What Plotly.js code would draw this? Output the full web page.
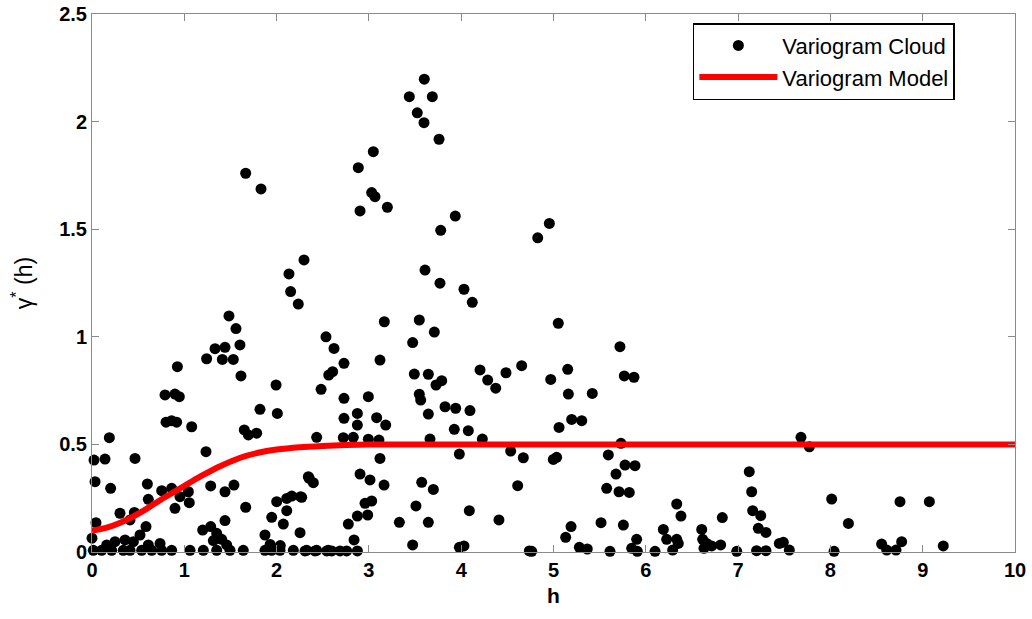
<!DOCTYPE html>
<html>
<head>
<meta charset="utf-8">
<script src="https://cdn.plot.ly/plotly-3.0.1.min.js"></script>
<style>
html,body{margin:0;padding:0;background:#fff;}
#chart{width:1032px;height:619px;}
</style>
</head>
<body>
<div id="chart"></div>
<script>
// Variogram cloud: lag distance h and semivariance gamma*(h)
const cloudH = [
  2.235,1.484,1.56,1.603,1.333,1.441,1.242,1.412,1.531,1.614,
  0.925,0.791,0.899,0.946,0.802,0.863,0.917,1.08,0.188,0.022,
  0.141,0.466,1.235,1.82,1.994,2.008,1.65,1.694,1.784,2.535,
  2.565,2.482,2.434,0.033,0.202,0.6,0.61,0.755,0.863,0.953,
  1.044,1.054,0.899,1.286,1.441,1.538,1.665,0.303,0.459,0.412,
  0.043,0.585,0.52,0.0,1.199,1.286,1.351,1.315,1.441,1.405,
  1.459,2.001,1.947,2.11,2.164,2.26,2.073,2.11,1.874,2.254,
  2.354,2.398,0.358,0.249,0.159,0.448,0.737,0.61,
  0.014,0.105,0.213,0.339,0.412,0.538,0.647,0.755,0.863,1.062,
  1.206,1.351,1.495,1.639,1.874,1.947,2.037,2.181,2.326,2.434,2.56,
  1.93,2.04,
  1.665,1.831,2.297,2.134,2.152,
  3.6,3.438,3.687,3.524,3.597,3.76,3.048,2.885,3.03,3.066,
  2.904,3.2,3.936,3.778,4.829,4.955,3.608,3.77,4.03,4.12,
  3.167,3.546,
  3.709,3.474,2.622,3.12,2.73,2.607,3.492,3.644,3.727,3.789,
  4.204,4.287,4.374,4.485,4.655,4.97,2.73,2.994,3.546,3.561,
  3.825,3.94,4.095,2.875,2.73,3.084,2.875,3.182,3.644,3.925,
  4.077,2.723,2.831,2.994,3.109,3.662,4.229,3.12,3.98,4.536,
  4.673,2.344,2.272,2.904,3.012,3.164,3.572,3.698,4.612,2.958,
  3.03,3.51,4.088,2.875,2.987,2.777,3.33,3.644,4.409,2.839,
  3.474,3.98,4.03,
  2.308,2.416,2.543,2.597,2.687,2.759,2.875,4.738,
  5.052,5.72,5.154,5.767,5.872,5.161,5.42,5.197,5.306,5.06,
  4.998,5.034,5.731,5.594,5.775,5.883,5.677,5.576,5.71,5.821,
  7.121,7.147,7.158,7.245,7.219,7.302,6.335,6.381,6.829,5.515,
  5.757,5.19,5.132,5.28,5.366,5.901,5.847,6.19,6.226,6.335,
  6.352,6.291,6.606,6.616,6.66,6.714,6.811,6.985,7.2,7.302,
  4.764,5.612,5.908,6.1,6.63,7.447,
  7.681,7.772,8.014,8.195,8.754,9.072,9.223,8.555,8.61,8.711,
  8.772,8.04,7.49,7.555
];
const cloudGamma = [
  1.152,1.097,1.038,0.962,0.945,0.951,0.898,0.895,0.895,0.818,
  0.861,0.73,0.734,0.722,0.603,0.61,0.603,0.582,0.531,0.427,
  0.432,0.435,0.466,0.663,0.776,0.644,0.567,0.544,0.552,1.0,
  0.822,0.756,0.533,0.327,0.296,0.316,0.245,0.285,0.296,0.257,
  0.28,0.229,0.203,0.307,0.28,0.311,0.208,0.18,0.184,0.149,
  0.136,0.118,0.079,0.064,0.102,0.118,0.087,0.053,0.146,0.059,
  0.033,0.234,0.161,0.249,0.26,0.257,0.13,0.192,0.079,0.09,
  0.342,0.322,0.056,0.048,0.033,0.048,0.04,0.033,
  0.008,0.008,0.008,0.008,0.008,0.008,0.008,0.008,0.008,0.008,
  0.008,0.008,0.008,0.008,0.008,0.008,0.008,0.008,0.008,0.008,0.008,
  0.035,0.03,
  1.76,1.687,1.357,1.292,1.21,
  2.197,2.116,2.116,2.041,1.995,1.918,1.86,1.786,1.67,1.651,
  1.585,1.602,1.561,1.495,1.46,1.527,1.31,1.249,1.221,1.16,
  1.07,1.078,
  1.022,0.973,0.946,0.892,0.877,0.838,0.827,0.826,0.776,0.796,
  0.846,0.799,0.761,0.833,0.866,0.802,0.714,0.722,0.733,0.706,
  0.675,0.668,0.657,0.644,0.621,0.624,0.59,0.59,0.641,0.57,
  0.564,0.531,0.533,0.524,0.52,0.525,0.525,0.435,0.455,0.469,
  0.438,0.35,0.254,0.362,0.335,0.311,0.324,0.291,0.308,0.226,
  0.237,0.214,0.192,0.167,0.172,0.13,0.138,0.138,0.149,0.056,
  0.033,0.022,0.028,
  0.005,0.005,0.005,0.005,0.005,0.005,0.005,0.005,
  1.063,0.954,0.849,0.818,0.812,0.734,0.737,0.616,0.61,0.579,
  0.43,0.44,0.505,0.451,0.404,0.401,0.362,0.296,0.28,0.277,
  0.373,0.28,0.192,0.169,0.11,0.091,0.223,0.167,0.16,0.136,
  0.125,0.118,0.068,0.022,0.014,0.059,0.017,0.105,0.059,0.059,
  0.04,0.009,0.105,0.059,0.04,0.028,0.033,0.003,0.006,0.006,
  0.003,0.003,0.003,0.003,0.017,0.04,
  0.533,0.489,0.246,0.133,0.234,0.234,0.028,0.037,0.009,0.009,
  0.048,0.003,0.045,0.009
];
// Variogram model, values
const modelH = [0, 0.15, 0.3, 0.45, 0.6, 0.75, 0.9, 1.05, 1.2, 1.4, 1.6, 1.8, 2.0, 2.25, 2.5, 2.75, 3.0, 3.5, 4.0, 5.0, 6.0, 7.0, 8.0, 9.0, 10.0];
const modelGamma = [0.10, 0.112, 0.135, 0.166, 0.203, 0.244, 0.282, 0.320, 0.357, 0.401, 0.437, 0.461, 0.476, 0.487, 0.493, 0.497, 0.499, 0.5, 0.5, 0.5, 0.5, 0.5, 0.5, 0.5, 0.5];

const xTicks = [0,1,2,3,4,5,6,7,8,9,10];
const yTicks = [0,0.5,1,1.5,2,2.5];
const yTickText = ['0','0.5','1','1.5','2','2.5'];

const traces = [
  {
    x: cloudH, y: cloudGamma, type: 'scatter', mode: 'markers',
    name: 'Variogram Cloud', cliponaxis: false,
    marker: {color: '#000', size: 11, line: {width: 0}}
  },
  {
    x: modelH, y: modelGamma, type: 'scatter', mode: 'lines',
    name: 'Variogram Model',
    line: {color: '#ff0000', width: 6, shape: 'spline', smoothing: 0.8}
  }
];

const axisCommon = {
  showline: true, linecolor: '#8a8a8a', linewidth: 1, mirror: 'ticks',
  ticks: 'inside', ticklen: 7, tickcolor: '#8a8a8a', tickwidth: 1,
  showgrid: false, zeroline: false,
  tickfont: {family: 'Liberation Sans, Arial, sans-serif', size: 20, color: '#000', weight: 'bold'}
};

const layout = {
  width: 1032, height: 619,
  margin: {l: 92, r: 17, t: 14, b: 67},
  paper_bgcolor: '#fff', plot_bgcolor: '#fff',
  showlegend: true,
  xaxis: Object.assign({}, axisCommon, {
    range: [0, 10], tickvals: xTicks,
    title: {text: '<b>h</b>', standoff: 8,
      font: {family: 'Liberation Sans, Arial, sans-serif', size: 21, color: '#000'}}
  }),
  yaxis: Object.assign({}, axisCommon, {
    range: [0, 2.5], tickvals: yTicks, ticktext: yTickText,
    title: {text: 'γ<sup>*</sup> (h)', standoff: 20,
      font: {family: 'Liberation Sans, Arial, sans-serif', size: 23, color: '#000'}}
  }),
  legend: {
    x: 0.651, y: 0.983, xanchor: 'left', yanchor: 'top',
    bgcolor: '#fff', bordercolor: '#000', borderwidth: 1.5,
    font: {family: 'Liberation Sans, Arial, sans-serif', size: 22, color: '#000'},
    itemwidth: 78, tracegroupgap: 0
  }
};

Plotly.newPlot('chart', traces, layout, {displayModeBar: false, staticPlot: true});
</script>
</body>
</html>
